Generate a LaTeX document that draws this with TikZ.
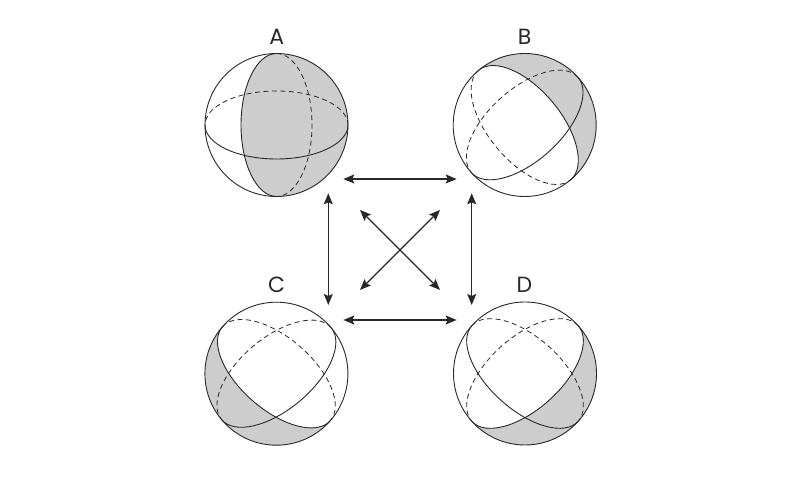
\documentclass[tikz,border=0pt]{standalone}
\usepackage{fontspec}
\setmainfont{Poppins}
\usetikzlibrary{arrows.meta}
\definecolor{ink}{RGB}{40,40,40}
\definecolor{lunegray}{RGB}{205,205,205}
\begin{document}
\begin{tikzpicture}[x=1pt,y=1pt,
  ball/.style={circle,draw=ink,line width=0.9pt,minimum size=143pt,inner sep=0pt},
  lune/.style={fill=lunegray,draw=none},
  front/.style={draw=ink,line width=0.9pt},
  back/.style={draw=ink,line width=0.8pt,dash pattern=on 5pt off 3.5pt},
  lab/.style={font=\fontsize{22}{22}\selectfont,text=ink,inner sep=0pt},
  link/.style={draw=ink,line width=1.1pt,{Stealth[length=11pt,width=9pt,inset=2pt]}-{Stealth[length=11pt,width=9pt,inset=2pt]}}
]
\useasboundingbox (0,0) rectangle (800,500);
\def\R{71.5}
\def\bb{36}
% ---------- A ----------
\coordinate (cA) at (276.5,375);
\path[lune,shift={(cA)},rotate=90] (\R,0) arc[start angle=0,end angle=180,x radius=\R,y radius=35.5] arc[start angle=180,end angle=360,radius=\R] -- cycle;
\node[ball] (A) at (cA) {};
\draw[front,shift={(cA)},rotate=90] (\R,0) arc[start angle=0,end angle=180,x radius=\R,y radius=35.5];
\draw[back,shift={(cA)},rotate=90] (\R,0) arc[start angle=0,end angle=-180,x radius=\R,y radius=35.5];
\draw[front,shift={(cA)}] (\R,0) arc[start angle=0,end angle=-180,x radius=\R,y radius=34];
\draw[back,shift={(cA)}] (\R,0) arc[start angle=0,end angle=180,x radius=\R,y radius=34];
\node[lab] (lA) at (276.7,463) {A};
% ---------- B ----------
\coordinate (cB) at (524.7,375);
\path[lune,shift={(cB)},rotate=130] (\R,0) arc[start angle=0,end angle=-180,x radius=\R,y radius=\bb] arc[start angle=-180,end angle=0,radius=\R] -- cycle;
\node[ball] (B) at (cB) {};
\draw[front,shift={(cB)},rotate=130] (\R,0) arc[start angle=0,end angle=-180,x radius=\R,y radius=\bb];
\draw[back,shift={(cB)},rotate=130] (\R,0) arc[start angle=0,end angle=180,x radius=\R,y radius=\bb];
\draw[front,shift={(cB)},rotate=42] (\R,0) arc[start angle=0,end angle=-180,x radius=\R,y radius=\bb];
\draw[back,shift={(cB)},rotate=42] (\R,0) arc[start angle=0,end angle=180,x radius=\R,y radius=\bb];
\node[lab] (lB) at (524.5,463) {B};
% ---------- C ----------
\coordinate (cC) at (276.4,126.3);
\path[lune,shift={(cC)},rotate=139] (\R,0) arc[start angle=0,end angle=180,x radius=\R,y radius=\bb] arc[start angle=180,end angle=0,radius=\R] -- cycle;
\node[ball] (C) at (cC) {};
\draw[front,shift={(cC)},rotate=139] (\R,0) arc[start angle=0,end angle=180,x radius=\R,y radius=\bb];
\draw[back,shift={(cC)},rotate=139] (\R,0) arc[start angle=0,end angle=-180,x radius=\R,y radius=\bb];
\draw[front,shift={(cC)},rotate=40] (\R,0) arc[start angle=0,end angle=-180,x radius=\R,y radius=\bb];
\draw[back,shift={(cC)},rotate=40] (\R,0) arc[start angle=0,end angle=180,x radius=\R,y radius=\bb];
\node[lab] (lC) at (276.7,215) {C};
% ---------- D ----------
\coordinate (cD) at (525,126.5);
\path[lune,shift={(cD)},rotate=42] (\R,0) arc[start angle=0,end angle=-180,x radius=\R,y radius=\bb] arc[start angle=-180,end angle=0,radius=\R] -- cycle;
\node[ball] (D) at (cD) {};
\draw[front,shift={(cD)},rotate=138] (\R,0) arc[start angle=0,end angle=180,x radius=\R,y radius=\bb];
\draw[back,shift={(cD)},rotate=138] (\R,0) arc[start angle=0,end angle=-180,x radius=\R,y radius=\bb];
\draw[front,shift={(cD)},rotate=42] (\R,0) arc[start angle=0,end angle=-180,x radius=\R,y radius=\bb];
\draw[back,shift={(cD)},rotate=42] (\R,0) arc[start angle=0,end angle=180,x radius=\R,y radius=\bb];
\node[lab] (lD) at (524.5,215) {D};
% ---------- arrows ----------
\coordinate (ab1) at (343.3,321);
\coordinate (ab2) at (456.7,321);
\coordinate (cd1) at (343.3,180);
\coordinate (cd2) at (456.7,180);
\coordinate (ac1) at (328.3,306.7);
\coordinate (ac2) at (328.3,195);
\coordinate (bd1) at (471.7,306.7);
\coordinate (bd2) at (471.7,195);
\coordinate (ad1) at (360,290);
\coordinate (ad2) at (440,210);
\coordinate (bc1) at (440,290);
\coordinate (bc2) at (360,210);
\draw[link] (ab1) -- (ab2);
\draw[link] (cd1) -- (cd2);
\draw[link] (ac1) -- (ac2);
\draw[link] (bd1) -- (bd2);
\draw[link] (ad1) -- (ad2);
\draw[link] (bc1) -- (bc2);
\end{tikzpicture}
\end{document}
